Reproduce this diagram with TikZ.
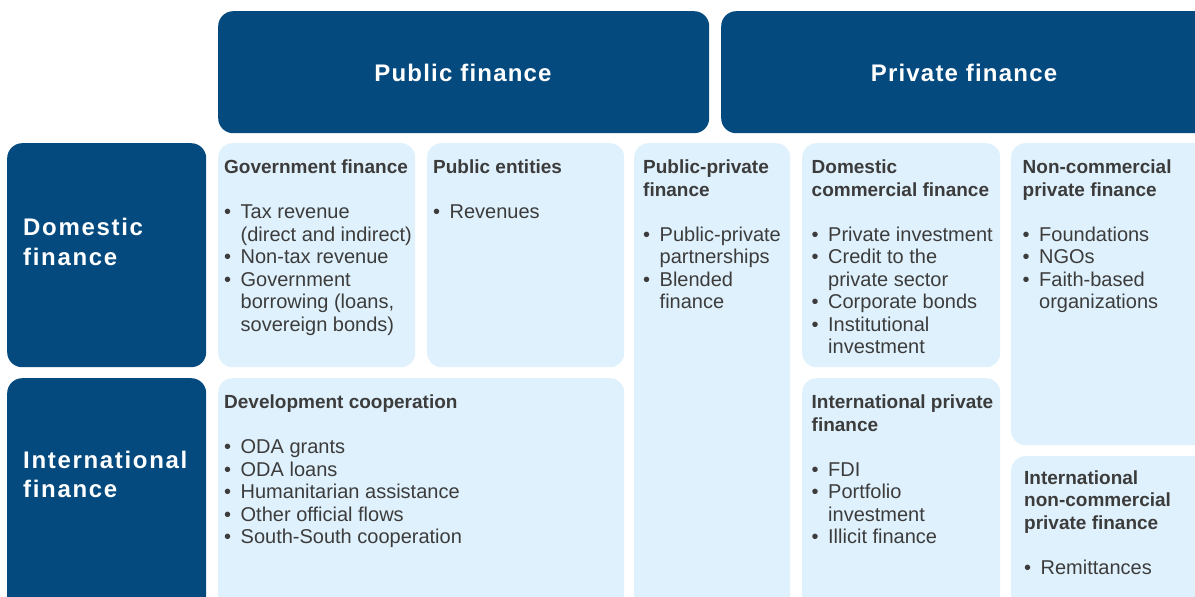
\documentclass[tikz,border=0pt]{standalone}
\usepackage{fontspec}
\setmainfont{Liberation Sans}
\newfontfamily\hdfont{Liberation Sans}[LetterSpace=5]
\newfontfamily\lbfont{Liberation Sans}[LetterSpace=7]
\definecolor{dkblue}{HTML}{044A7F}
\definecolor{ltblue}{HTML}{DFF1FC}
\definecolor{txtgray}{HTML}{3C3C3C}
\newcommand{\itm}{\makebox[16.5pt][l]{\textbullet}}
\newcommand{\cnt}{\hspace*{16.5pt}}
\newcommand{\btitle}[1]{{\fontsize{19}{22.5}\selectfont\bfseries #1}}
\newcommand{\fst}{\rule{0pt}{16pt}}
\tikzset{
  dbox/.style={fill=dkblue, rounded corners=15pt, inner sep=0pt, anchor=north west, draw=none},
  lbox/.style={fill=ltblue, rounded corners=14pt, inner sep=0pt, anchor=north west, draw=none},
  txt/.style={anchor=north west, inner sep=0pt, align=left, text=txtgray, font=\fontsize{20}{22.5}\selectfont},
  hdtxt/.style={anchor=base, inner sep=0pt, text=white, font=\hdfont\bfseries\fontsize{24}{28}\selectfont},
  lbtxt/.style={anchor=north west, inner sep=0pt, align=left, text=white, font=\lbfont\bfseries\fontsize{24}{30}\selectfont}
}
\begin{document}
\begin{tikzpicture}[x=1pt,y=-1pt]
\useasboundingbox (0,0) rectangle (1195,597);
\clip (0,0) rectangle (1195,597);
% header boxes
\node[dbox, minimum width=491pt, minimum height=122pt] (pub) at (218,11) {};
\node[dbox, minimum width=520pt, minimum height=122pt] (priv) at (721,11) {};
\node[dbox, minimum width=199pt, minimum height=224pt] (dom) at (7,143) {};
\node[dbox, minimum width=199pt, minimum height=250pt] (intl) at (7,378) {};
% light boxes
\node[lbox, minimum width=197pt, minimum height=224pt] (gov) at (218,143) {};
\node[lbox, minimum width=197pt, minimum height=224pt] (pe) at (427,143) {};
\node[lbox, minimum width=156pt, minimum height=480pt] (pp) at (634,143) {};
\node[lbox, minimum width=198pt, minimum height=224pt] (dc) at (802,143) {};
\node[lbox, minimum width=230pt, minimum height=302pt] (nc) at (1011,143) {};
\node[lbox, minimum width=406pt, minimum height=250pt] (dev) at (218,378) {};
\node[lbox, minimum width=198pt, minimum height=250pt] (ip) at (802,378) {};
\node[lbox, minimum width=230pt, minimum height=200pt] (inc) at (1011,456) {};
% header texts
\node[hdtxt] (tpub) at (463,81) {Public finance};
\node[hdtxt] (tpriv) at (964,81) {Private finance};
\node[lbtxt] (tdom) at (23,215) {\rule{0pt}{20pt}Domestic\\finance};
\node[lbtxt] (tintl) at (23,448) {\rule{0pt}{20pt}International\\[-1pt]finance};
% body texts
\node[txt] (tgov) at (224,157.3) {\fst\btitle{Government finance}\\[22.5pt]
\itm Tax revenue\\ \cnt(direct and indirect)\\ \itm Non-tax revenue\\ \itm Government\\ \cnt borrowing (loans,\\ \cnt sovereign bonds)};
\node[txt] (tpe) at (433,157.3) {\fst\btitle{Public entities}\\[22.5pt] \itm Revenues};
\node[txt] (tpp) at (643,157.3) {\fst\btitle{Public-private}\\ \btitle{finance}\\[22.5pt]
\itm Public-private\\ \cnt partnerships\\ \itm Blended\\ \cnt finance};
\node[txt] (tdc) at (811.5,157.3) {\fst\btitle{Domestic}\\ \btitle{commercial finance}\\[22.5pt]
\itm Private investment\\ \itm Credit to the\\ \cnt private sector\\ \itm Corporate bonds\\ \itm Institutional\\ \cnt investment};
\node[txt] (tnc) at (1022.5,157.3) {\fst\btitle{Non-commercial}\\ \btitle{private finance}\\[22.5pt]
\itm Foundations\\ \itm NGOs\\ \itm Faith-based\\ \cnt organizations};
\node[txt] (tdev) at (224,392.3) {\fst\btitle{Development cooperation}\\[22.5pt]
\itm ODA grants\\ \itm ODA loans\\ \itm Humanitarian assistance\\ \itm Other official flows\\ \itm South-South cooperation};
\node[txt] (tip) at (811.5,392.3) {\fst\btitle{International private}\\ \btitle{finance}\\[22.5pt]
\itm FDI\\ \itm Portfolio\\ \cnt investment\\ \itm Illicit finance};
\node[txt] (tinc) at (1024,468) {\fst\btitle{International}\\ \btitle{non-commercial}\\ \btitle{private finance}\\[22.5pt]
\itm Remittances};
\end{tikzpicture}
\end{document}
